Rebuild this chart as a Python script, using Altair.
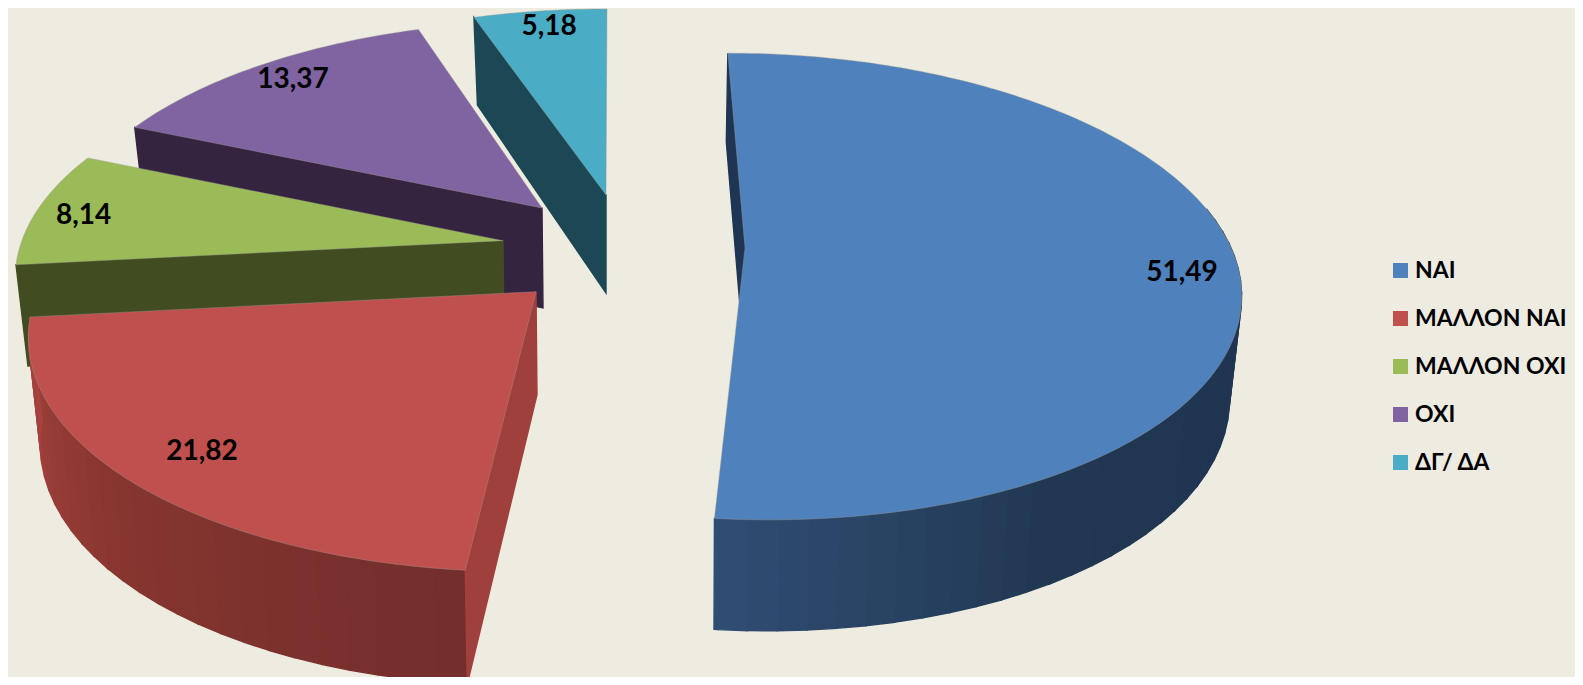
import math
import altair as alt

# ---- chart values ----
categories = ["ΝΑΙ", "ΜΑΛΛΟΝ ΝΑΙ", "ΜΑΛΛΟΝ ΟΧΙ", "ΟΧΙ", "ΔΓ/ ΔΑ"]
values = [51.49, 21.82, 8.14, 13.37, 5.18]
value_labels = ["51,49", "21,82", "8,14", "13,37", "5,18"]

# ---- styling ----
top_colors = ["#4F81BD", "#C0504D", "#9BBB59", "#8064A2", "#4BACC6"]
cut_colors = ["#1E3553", "#A0403C", "#414C20", "#35243F", "#1C4754"]
# wall shade stops as (angle, colour)
wall_stops = [
    [(80, "#233750"), (120, "#1F3552"), (150, "#213852"), (186, "#304D74")],
    [(185, "#732E2C"), (225, "#86352F"), (264, "#A8433F")],
    None, None, None,
]
BACKGROUND = "#EEECE1"

# ---- 3D layout: exploded slice placement in the 3D view ----
# apex x, apex y, x scale, y scale, skew, wall depth, wall shift
layout = [
    (745, 248, 0.99, 1.00, -20.0, 100, -1.5),
    (536, 291.7, 1.015, 1.03, 12.6, 103, 1.0),
    (503, 240.7, 0.98, 0.985, 0.0, 100, 1.0),
    (542, 208, 0.97, 0.96, 10.0, 100, 1.0),
    (606, 195, 0.98, 0.955, 1.2, 98, 0.0),
]
RX, RY, PERSP, TAPER = 491.0, 227.0, 0.165, 11.0
# radial fraction and angular nudge of each value label
label_place = [(0.885, 4.4), (0.85, -1.0), (0.895, -1.3), (0.88, 0.4), (0.899, 0.5)]
OFFSET = 8  # page margin


def upper(i, phi, r=1.0):
    cx, cy, sx, sy, skew, _, _ = layout[i]
    u, v = math.sin(math.radians(phi)), math.cos(math.radians(phi))
    q = r * v
    w = 1 + PERSP * q
    return [cx + (sx * RX * r * u + skew * q) / w, cy - sy * RY * q / w]


def lower(i, phi, r=1.0):
    _, _, _, _, _, depth, shift = layout[i]
    x, y = upper(i, phi, r)
    u, v = math.sin(math.radians(phi)), math.cos(math.radians(phi))
    return [x - TAPER * u * r + shift, y + depth - TAPER * v * r]


def mix(stops, phi):
    def rgb(h):
        return [int(h[k:k + 2], 16) for k in (1, 3, 5)]
    if phi <= stops[0][0]:
        return stops[0][1]
    for (a, ca), (b, cb) in zip(stops, stops[1:]):
        if phi <= b:
            t = (phi - a) / (b - a)
            c = [round(x + (y - x) * t) for x, y in zip(rgb(ca), rgb(cb))]
            return "#%02x%02x%02x" % tuple(c)
    return stops[-1][1]


def feature(ring, **props):
    return {
        "type": "Feature",
        "geometry": {"type": "Polygon", "coordinates": [ring + [ring[0]]]},
        "properties": props,
    }


# angles from the values
total = sum(values)
angles = []
running = 0.0
for val in values:
    angles.append((running / total * 360, (running + val) / total * 360))
    running += val

wall_features, top_features, label_rows = [], [], []
for i in reversed(range(len(values))):
    a0, a1 = angles[i]
    stops = wall_stops[i]
    if stops:
        a = max(a0, stops[0][0])
        while a < a1:
            b = min(a + 3.0, a1)
            ring = [upper(i, a), upper(i, b), lower(i, b), lower(i, a)]
            wall_features.append(feature(ring, shade=mix(stops, (a + b) / 2)))
            a = b
    ring = [upper(i, a0), upper(i, a0, 0), lower(i, a0, 0), lower(i, a0)]
    wall_features.append(feature(ring, shade=cut_colors[i]))

    n = max(2, int(a1 - a0))
    rim = [upper(i, a0 + (a1 - a0) * k / n) for k in range(n + 1)]
    top_features.append(feature(rim + [upper(i, 0, 0)], category=categories[i]))

    r, nudge = label_place[i]
    lx, ly = upper(i, (a0 + a1) / 2 + nudge, r)
    label_rows.append({"lon": lx, "lat": ly, "text": value_labels[i]})

projection = dict(type="identity", scale=1, translate=[-OFFSET, -OFFSET])

walls = (
    alt.Chart(alt.Data(values=wall_features))
    .mark_geoshape(strokeWidth=1.4)
    .encode(
        fill=alt.Fill("properties.shade:N", scale=None, legend=None),
        stroke=alt.Stroke("properties.shade:N", scale=None, legend=None),
    )
    .project(**projection)
)

tops = (
    alt.Chart(alt.Data(values=top_features))
    .mark_geoshape(stroke="#9a9a90", strokeWidth=0.4)
    .encode(
        color=alt.Color(
            "properties.category:N",
            scale=alt.Scale(domain=categories, range=top_colors),
            legend=alt.Legend(
                title=None,
                orient="none",
                legendX=1381,
                legendY=251,
                symbolType="square",
                symbolSize=225,
                symbolStrokeWidth=0,
                symbolOpacity=1,
                labelFont="Lato, Noto Sans, sans-serif",
                labelFontWeight="bold",
                labelFontSize=23,
                labelColor="#000000",
                labelOffset=3,
                labelLimit=300,
                rowPadding=24,
                padding=0,
            ),
        )
    )
    .project(**projection)
)

labels = (
    alt.Chart(alt.Data(values=label_rows))
    .mark_text(
        font="Lato, Noto Sans, sans-serif",
        fontWeight="bold",
        fontSize=28,
        color="#000000",
        baseline="middle",
        align="center",
    )
    .encode(longitude="lon:Q", latitude="lat:Q", text="text:N")
    .project(**projection)
)

chart = alt.layer(walls, tops, labels).properties(
    width=1567,
    height=669,
    background=BACKGROUND,
    padding=0,
    autosize=alt.AutoSizeParams(type="none"),
).configure_view(stroke=None)

chart.save("out.html", embed_options={"renderer": "svg", "actions": False})
